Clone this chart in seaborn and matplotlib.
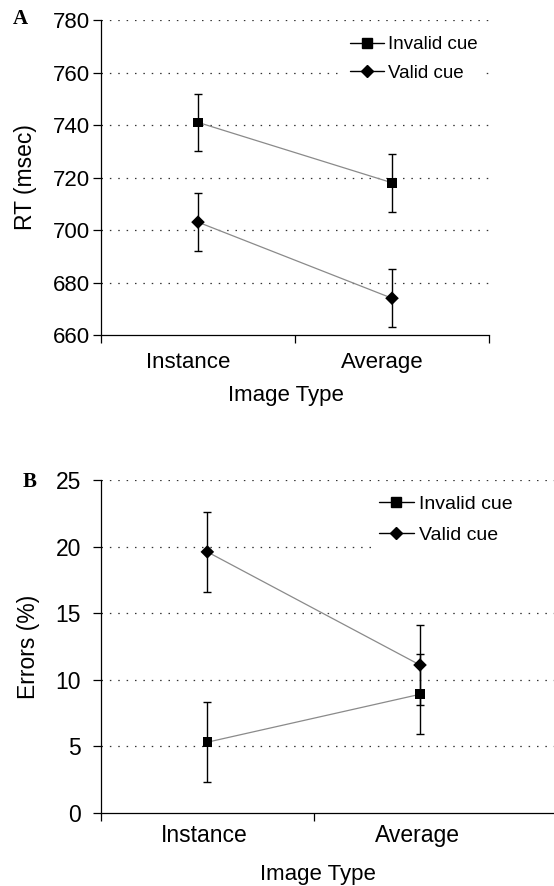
import numpy as np
import pandas as pd
import matplotlib
matplotlib.use("Agg")
import matplotlib.pyplot as plt
import matplotlib.transforms as mtransforms
import seaborn as sns
from matplotlib.lines import Line2D

# dados
image_types = ["Instance", "Average"]
cues = ["Invalid cue", "Valid cue"]

rt_invalid = [741, 718]
rt_valid = [703, 674]
rt_err_invalid = [11, 11]
rt_err_valid = [11, 11]

err_invalid = [5.3, 8.9]
err_valid = [19.6, 11.1]
err_err_invalid = [3.0, 3.0]
err_err_valid = [3.0, 3.0]

sns.set_theme(style="white")
plt.rcParams["font.family"] = ["Liberation Sans", "DejaVu Sans"]
for chave in ["text.color", "axes.labelcolor", "xtick.color", "ytick.color"]:
    plt.rcParams[chave] = "black"

marcadores = {"Invalid cue": "s", "Valid cue": "D"}


def monta_df(invalid, valid):
    linhas = []
    for cue, vals in zip(cues, [invalid, valid]):
        for it, v in zip(image_types, vals):
            linhas.append({"Image Type": it, "cue": cue, "value": v})
    return pd.DataFrame(linhas)


def desenha_painel(ax, invalid, valid, e_inv, e_val, yticks, ylabel, xlim_max, minor_x,
                   fs_tick, fs_label, ypad, xpad, fs_leg, leg_bbox, leg_spacing, leg_mode):
    df = monta_df(invalid, valid)
    sns.lineplot(data=df, x="Image Type", y="value", units="cue", estimator=None,
                 color="#8a8a8a", linewidth=0.9, legend=False, ax=ax, zorder=2)
    pos = np.arange(len(image_types))
    for vals, errs in zip([invalid, valid], [e_inv, e_val]):
        ax.errorbar(pos, vals, yerr=errs, fmt="none", ecolor="black",
                    elinewidth=1.0, capsize=3, capthick=1.0, zorder=3)
    sns.scatterplot(data=df, x="Image Type", y="value", hue="cue", style="cue",
                    markers=marcadores, palette={c: "black" for c in cues},
                    s=48, linewidth=0, legend=False, ax=ax, zorder=4)

    ax.set_xlim(-0.5, xlim_max)
    ax.set_ylim(yticks[0], yticks[-1])
    ax.set_yticks(yticks)
    ax.set_xticks(pos)
    ax.set_xticklabels(image_types)
    ax.set_xticks(minor_x, minor=True)
    ax.tick_params(axis="x", which="major", length=0, pad=xpad, labelsize=fs_tick)
    ax.tick_params(axis="x", which="minor", length=6, width=0.9, color="black",
                   direction="out", bottom=True)
    ax.tick_params(axis="y", length=6, width=0.9, color="black", direction="out",
                   left=True, pad=ypad, labelsize=fs_tick)

    for y in yticks[1:]:
        ax.axhline(y, color="#333333", linewidth=0.9, linestyle=(0, (1.2, 5.5)), zorder=1)

    for s in ["top", "right"]:
        ax.spines[s].set_visible(False)
    for s in ["left", "bottom"]:
        ax.spines[s].set_color("black")
        ax.spines[s].set_linewidth(0.9)

    ax.set_ylabel(ylabel, fontsize=fs_label)
    ax.set_xlabel("Image Type", fontsize=fs_label - 0.5)

    handles = [Line2D([], [], color="black", marker=marcadores[c], markersize=7 if c == cues[0] else 6,
                      linewidth=1.0) for c in cues]
    leg = ax.legend(handles, cues, loc="upper left", bbox_to_anchor=leg_bbox, mode=leg_mode,
                    frameon=True, fontsize=fs_leg, handlelength=1.8, handletextpad=0.25,
                    borderaxespad=0, labelspacing=leg_spacing)
    leg.get_frame().set_facecolor("white")
    leg.get_frame().set_edgecolor("none")
    leg.get_frame().set_alpha(1)
    leg.set_zorder(5)


fig = plt.figure(figsize=(5.54, 8.86), dpi=100)
ax_a = fig.add_axes([0.1823, 0.6219, 0.7004, 0.3555])
ax_b = fig.add_axes([0.1823, 0.0827, 0.8177, 0.3755])

desenha_painel(ax_a, rt_invalid, rt_valid, rt_err_invalid, rt_err_valid,
               [660, 680, 700, 720, 740, 760, 780], "RT (msec)", 1.5, [-0.5, 0.5, 1.5],
               16, 16.5, 2, 12, 13.5, (0.622, 0.973), 0.62, None)
desenha_painel(ax_b, err_invalid, err_valid, err_err_invalid, err_err_valid,
               [0, 5, 10, 15, 20, 25], "Errors (%)", 1.63, [-0.5, 0.5],
               16.5, 16.5, 8.5, 8, 14, (0.596, 0.877, 0.42, 0.1), 0.7, "expand")

ax_a.yaxis.set_label_coords(-0.165, 0.5)
ax_b.yaxis.set_label_coords(-0.135, 0.5)
ax_a.xaxis.set_label_coords(0.477, -0.159)
ax_b.xaxis.set_label_coords(0.479, -0.154)

# rótulos de categoria ligeiramente deslocados para a esquerda, como no original
for ax, dx in [(ax_a, -10), (ax_b, -3)]:
    desloc = mtransforms.ScaledTranslation(dx / 100, 0, fig.dpi_scale_trans)
    for lbl in ax.get_xticklabels():
        lbl.set_transform(lbl.get_transform() + desloc)

fig.text(0.024, 0.979, "A", fontsize=15, fontweight="bold", family="Liberation Serif", va="center")
fig.text(0.040, 0.456, "B", fontsize=15, fontweight="bold", family="Liberation Serif", va="center")

fig.savefig("out.png", dpi=100)
